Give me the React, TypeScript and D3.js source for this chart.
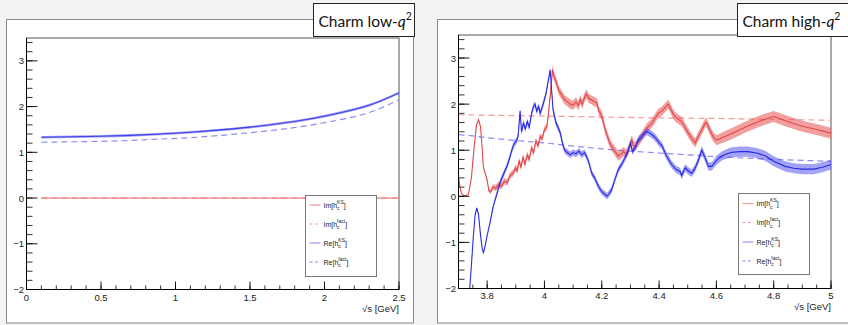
import React from 'react';
import * as d3 from 'd3';

const W = 848;
const H = 325;

// ---------- Low-q2 panel data: [sqrt(s), value, half-band] ----------
const lowReKS: [number, number, number][] = [
  [0.1, 1.33, 0.028], [0.3, 1.34, 0.028], [0.5, 1.35, 0.028], [0.7, 1.37, 0.028], [0.9, 1.40, 0.028],
  [1.1, 1.44, 0.028], [1.3, 1.49, 0.028], [1.5, 1.55, 0.028], [1.7, 1.63, 0.028], [1.9, 1.73, 0.028],
  [2.1, 1.86, 0.03], [2.3, 2.03, 0.03], [2.5, 2.30, 0.032],
];
const lowReFact: [number, number][] = [
  [0.1, 1.22], [0.3, 1.23], [0.5, 1.24], [0.7, 1.26], [0.9, 1.29], [1.1, 1.32], [1.3, 1.37],
  [1.5, 1.43], [1.7, 1.50], [1.9, 1.59], [2.1, 1.71], [2.3, 1.87], [2.5, 2.15],
];
const lowImKS: [number, number, number][] = [
  [0.1, 0, 0.008], [0.5, 0, 0.008], [1.0, 0, 0.008], [1.5, 0, 0.008], [2.0, 0, 0.008], [2.5, 0, 0.008],
];
const lowImFact: [number, number][] = [[0.1, 0], [1.0, 0], [2.0, 0], [2.5, 0]];

// ---------- High-q2 panel data ----------
const highImKS: [number, number, number][] = [
  [3.700, 0.43, 0.01], [3.705, 0.20, 0.01], [3.710, 0.07, 0.01], [3.717, 0.02, 0.01], [3.725, 0.01, 0.01],
  [3.735, 0.05, 0.01], [3.745, 0.40, 0.01], [3.755, 1.10, 0.01], [3.763, 1.55, 0.01], [3.770, 1.66, 0.01],
  [3.777, 1.50, 0.01], [3.783, 1.00, 0.015], [3.787, 0.62, 0.02], [3.793, 0.50, 0.02], [3.800, 0.35, 0.03],
  [3.806, 0.12, 0.04], [3.812, 0.10, 0.05], [3.820, 0.20, 0.06], [3.830, 0.18, 0.07], [3.840, 0.25, 0.07],
  [3.850, 0.22, 0.07], [3.860, 0.33, 0.07], [3.870, 0.30, 0.07], [3.880, 0.45, 0.07], [3.890, 0.50, 0.07],
  [3.900, 0.62, 0.07], [3.905, 0.55, 0.07], [3.912, 0.78, 0.07], [3.918, 0.62, 0.07], [3.925, 0.85, 0.07],
  [3.932, 0.70, 0.07], [3.940, 0.90, 0.07], [3.947, 0.80, 0.07], [3.955, 1.05, 0.07], [3.962, 0.95, 0.07],
  [3.970, 1.20, 0.07], [3.978, 1.10, 0.07], [3.985, 1.30, 0.07], [3.992, 1.25, 0.07], [4.000, 1.45, 0.07],
  [4.008, 1.50, 0.07], [4.015, 1.85, 0.08], [4.022, 2.30, 0.09], [4.028, 2.75, 0.1], [4.033, 2.60, 0.1],
  [4.040, 2.50, 0.1], [4.050, 2.30, 0.1], [4.060, 2.20, 0.1], [4.070, 2.10, 0.1], [4.080, 2.05, 0.1],
  [4.090, 2.00, 0.1], [4.100, 1.98, 0.1], [4.110, 2.05, 0.1], [4.118, 1.97, 0.1], [4.125, 2.10, 0.1],
  [4.132, 2.00, 0.1], [4.140, 2.15, 0.1], [4.147, 2.22, 0.1], [4.155, 2.12, 0.1], [4.165, 2.09, 0.1],
  [4.175, 2.05, 0.1], [4.183, 2.03, 0.1], [4.190, 1.85, 0.1], [4.200, 1.75, 0.1], [4.212, 1.44, 0.1],
  [4.230, 1.12, 0.1], [4.247, 0.97, 0.1], [4.258, 0.87, 0.1], [4.268, 0.92, 0.1], [4.276, 0.97, 0.1],
  [4.285, 0.92, 0.1], [4.293, 1.00, 0.1], [4.305, 1.23, 0.1], [4.310, 1.10, 0.1], [4.316, 1.08, 0.1],
  [4.328, 1.18, 0.1], [4.340, 1.30, 0.1], [4.357, 1.48, 0.1], [4.375, 1.59, 0.1], [4.387, 1.70, 0.1],
  [4.397, 1.80, 0.1], [4.410, 1.85, 0.1], [4.420, 1.92, 0.1], [4.432, 2.00, 0.1], [4.440, 1.90, 0.1],
  [4.448, 1.80, 0.1], [4.456, 1.73, 0.1], [4.465, 1.68, 0.1], [4.479, 1.62, 0.1], [4.490, 1.50, 0.1],
  [4.502, 1.37, 0.1], [4.515, 1.25, 0.1], [4.526, 1.16, 0.1], [4.537, 1.30, 0.1], [4.549, 1.44, 0.1],
  [4.560, 1.58, 0.1], [4.566, 1.60, 0.1], [4.578, 1.42, 0.1], [4.590, 1.28, 0.1], [4.601, 1.22, 0.11],
  [4.650, 1.35, 0.12], [4.700, 1.50, 0.12], [4.750, 1.63, 0.12], [4.800, 1.73, 0.12], [4.850, 1.62, 0.12],
  [4.900, 1.52, 0.12], [4.950, 1.45, 0.12], [5.000, 1.37, 0.12],
];
const highReKS: [number, number, number][] = [
  [3.738, -2.10, 0.01], [3.745, -1.50, 0.01], [3.752, -0.85, 0.01], [3.758, -0.40, 0.01], [3.764, -0.25, 0.01],
  [3.770, -0.40, 0.01], [3.777, -0.85, 0.01], [3.783, -1.15, 0.01], [3.787, -1.22, 0.01], [3.792, -1.10, 0.015],
  [3.800, -0.85, 0.02], [3.810, -0.57, 0.03], [3.820, -0.25, 0.04], [3.828, -0.07, 0.05], [3.837, 0.12, 0.06],
  [3.845, 0.30, 0.07], [3.857, 0.48, 0.07], [3.869, 0.65, 0.07], [3.878, 0.82, 0.07], [3.886, 1.00, 0.07],
  [3.895, 1.15, 0.07], [3.902, 1.20, 0.07], [3.908, 1.30, 0.07], [3.915, 1.85, 0.07], [3.920, 1.40, 0.07],
  [3.927, 1.60, 0.07], [3.933, 1.45, 0.07], [3.940, 1.62, 0.07], [3.947, 1.50, 0.07], [3.955, 1.80, 0.07],
  [3.962, 1.95, 0.07], [3.967, 2.00, 0.07], [3.973, 1.85, 0.07], [3.980, 1.95, 0.07], [3.985, 1.80, 0.07],
  [3.993, 1.95, 0.07], [4.000, 2.10, 0.07], [4.006, 2.25, 0.07], [4.013, 2.50, 0.07], [4.020, 2.74, 0.07],
  [4.025, 2.30, 0.07], [4.030, 1.88, 0.07], [4.040, 1.60, 0.07], [4.055, 1.38, 0.07], [4.063, 1.15, 0.07],
  [4.070, 1.00, 0.07], [4.080, 0.95, 0.07], [4.090, 0.90, 0.07], [4.100, 0.95, 0.07], [4.110, 0.92, 0.07],
  [4.120, 0.98, 0.07], [4.130, 0.90, 0.07], [4.140, 0.95, 0.07], [4.148, 0.85, 0.07], [4.155, 0.73, 0.07],
  [4.165, 0.50, 0.07], [4.175, 0.40, 0.07], [4.188, 0.22, 0.07], [4.200, 0.10, 0.07], [4.210, 0.05, 0.07],
  [4.218, 0.00, 0.07], [4.225, 0.05, 0.07], [4.235, 0.15, 0.07], [4.245, 0.35, 0.07], [4.258, 0.58, 0.07],
  [4.270, 0.70, 0.07], [4.281, 0.83, 0.07], [4.290, 0.95, 0.07], [4.300, 1.16, 0.07], [4.307, 0.97, 0.07],
  [4.316, 1.05, 0.07], [4.328, 1.23, 0.08], [4.340, 1.30, 0.08], [4.357, 1.41, 0.08], [4.375, 1.34, 0.08],
  [4.390, 1.25, 0.08], [4.400, 1.16, 0.08], [4.410, 1.10, 0.08], [4.421, 0.94, 0.08], [4.433, 0.80, 0.08],
  [4.444, 0.69, 0.08], [4.460, 0.58, 0.08], [4.473, 0.54, 0.08], [4.479, 0.45, 0.08], [4.491, 0.62, 0.08],
  [4.502, 0.55, 0.08], [4.514, 0.50, 0.08], [4.525, 0.60, 0.08], [4.535, 0.75, 0.08], [4.549, 1.00, 0.09],
  [4.560, 0.85, 0.09], [4.572, 0.65, 0.09], [4.584, 0.65, 0.09], [4.600, 0.78, 0.1], [4.620, 0.88, 0.1],
  [4.650, 0.95, 0.11], [4.680, 0.97, 0.11], [4.710, 0.97, 0.11], [4.740, 0.94, 0.11], [4.770, 0.88, 0.11],
  [4.800, 0.76, 0.11], [4.840, 0.65, 0.11], [4.870, 0.61, 0.11], [4.900, 0.59, 0.11], [4.940, 0.59, 0.11],
  [4.970, 0.63, 0.11], [5.000, 0.69, 0.11],
];
const highReFact: [number, number][] = [
  [3.70, 1.34], [3.75, 1.31], [3.80, 1.27], [3.90, 1.21], [4.00, 1.16], [4.10, 1.09], [4.20, 1.03],
  [4.30, 0.98], [4.40, 0.94], [4.50, 0.90], [4.60, 0.86], [4.70, 0.83], [4.80, 0.80], [4.90, 0.78], [5.00, 0.76],
];
const highImFact: [number, number][] = [
  [3.70, 1.77], [4.00, 1.74], [4.20, 1.72], [4.40, 1.70], [4.60, 1.69], [4.80, 1.67], [5.00, 1.65],
];

// ---------- Axes ----------
const yTicks = [-2, -1, 0, 1, 2, 3];
const lowXTicks = [0, 0.5, 1, 1.5, 2, 2.5];
const highXTicks = [3.8, 4, 4.2, 4.4, 4.6, 4.8, 5];
const xTitle = '\u221As [GeV]';
const legendNames = [
  { main: 'Im[h', sup: 'KS', kind: 'im', dash: false },
  { main: 'Im[h', sup: 'fact', kind: 'im', dash: true },
  { main: 'Re[h', sup: 'KS', kind: 're', dash: false },
  { main: 'Re[h', sup: 'fact', kind: 're', dash: true },
];

const RED = '#e2474a';
const RED_BAND = 'rgba(232,80,82,0.55)';
const RED_DASH = '#f29a9a';
const BLUE = '#2a2ae6';
const BLUE_BAND = 'rgba(70,70,240,0.5)';
const BLUE_DASH = '#8c8cf2';
const AXIS_FONT = '"Liberation Sans", Arial, sans-serif';

type Geo = {
  id: string;
  outer: { x: number; y: number; w: number; h: number };
  plot: { x0: number; x1: number; top: number; bottom: number };
  xDomain: [number, number];
  xTicks: number[];
  xMinor: number;
  xLabel: (v: number) => string;
  title: string;
  titleBox: { x: number; y: number; w: number; h: number };
  legend: { x: number; y: number; w: number; h: number; rows: number[] };
  reKS: [number, number, number][];
  imKS: [number, number, number][];
  reFact: [number, number][];
  imFact: [number, number][];
  smooth: boolean;
  imColor: string;
  reColor: string;
  labelBase: number;
  titleBase: number;
};

function Panel({ g }: { g: Geo }) {
  const x = d3.scaleLinear().domain(g.xDomain).range([g.plot.x0, g.plot.x1]);
  const y = d3.scaleLinear().domain([-2, 3.5]).range([g.plot.bottom, g.plot.top]);
  const curve = g.smooth ? d3.curveMonotoneX : d3.curveLinear;
  const line = d3.line<[number, number, number] | [number, number]>()
    .x((d) => x(d[0])).y((d) => y(d[1])).curve(curve);
  const area = d3.area<[number, number, number]>()
    .x((d) => x(d[0])).y0((d) => y(d[1] - d[2])).y1((d) => y(d[1] + d[2])).curve(curve);

  const xMinorTicks = d3.range(
    Math.ceil(g.xDomain[0] / g.xMinor - 1e-6) * g.xMinor,
    g.xDomain[1] + 1e-6,
    g.xMinor
  );
  const yMinorTicks = d3.range(-2, 3.5 + 1e-6, 0.2);
  const clipId = `clip-${g.id}`;
  const L = g.legend;

  return (
    <g>
      <rect x={g.outer.x} y={g.outer.y} width={g.outer.w} height={g.outer.h} fill="#ffffff" stroke="#8a8a8a" strokeWidth={1} />
      <defs>
        <clipPath id={clipId}>
          <rect x={g.plot.x0} y={g.plot.top} width={g.plot.x1 - g.plot.x0} height={g.plot.bottom - g.plot.top} />
        </clipPath>
      </defs>
      {/* frame */}
      <rect x={g.plot.x0} y={g.plot.top} width={g.plot.x1 - g.plot.x0} height={g.plot.bottom - g.plot.top}
        fill="none" stroke="#555" strokeWidth={1} />
      <g clipPath={`url(#${clipId})`}>
        <path d={line(g.imFact) || ''} fill="none" stroke={RED_DASH} strokeWidth={1.2} strokeDasharray="6,4" />
        <path d={line(g.reFact) || ''} fill="none" stroke={BLUE_DASH} strokeWidth={1.2} strokeDasharray="6,4" />
        <path d={area(g.imKS) || ''} fill={RED_BAND} />
        <path d={line(g.imKS) || ''} fill="none" stroke={g.imColor} strokeWidth={1.1} />
        <path d={area(g.reKS) || ''} fill={BLUE_BAND} />
        <path d={line(g.reKS) || ''} fill="none" stroke={g.reColor} strokeWidth={1.1} />
      </g>
      {/* x axis */}
      <line x1={g.plot.x0} x2={g.plot.x1} y1={g.plot.bottom} y2={g.plot.bottom} stroke="#000" strokeWidth={1} />
      {xMinorTicks.map((v, i) => (
        <line key={`xm${i}`} x1={x(v)} x2={x(v)} y1={g.plot.bottom} y2={g.plot.bottom - 4} stroke="#000" strokeWidth={0.8} />
      ))}
      {g.xTicks.map((v, i) => (
        <line key={`xM${i}`} x1={x(v)} x2={x(v)} y1={g.plot.bottom} y2={g.plot.bottom - 8} stroke="#000" strokeWidth={0.9} />
      ))}
      {g.xTicks.map((v, i) => (
        <text key={`xl${i}`} x={x(v)} y={g.labelBase} textAnchor="middle" fontFamily={AXIS_FONT} fontSize={9.5} fill="#222">
          {g.xLabel(v)}
        </text>
      ))}
      <text x={g.plot.x1} y={g.labelBase + 11} textAnchor="end" fontFamily={AXIS_FONT} fontSize={9.5} fill="#222">{xTitle}</text>
      {/* y axis */}
      <line x1={g.plot.x0} x2={g.plot.x0} y1={g.plot.top} y2={g.plot.bottom} stroke="#000" strokeWidth={1} />
      {yMinorTicks.map((v, i) => (
        <line key={`ym${i}`} x1={g.plot.x0} x2={g.plot.x0 + 6} y1={y(v)} y2={y(v)} stroke="#000" strokeWidth={0.8} />
      ))}
      {yTicks.map((v, i) => (
        <line key={`yM${i}`} x1={g.plot.x0} x2={g.plot.x0 + 11} y1={y(v)} y2={y(v)} stroke="#000" strokeWidth={0.9} />
      ))}
      {yTicks.map((v, i) => (
        <text key={`yl${i}`} x={g.plot.x0 - 2.5} y={y(v) + 3.5} textAnchor="end" fontFamily={AXIS_FONT} fontSize={9.5} fill="#222">
          {v < 0 ? `\u2212${Math.abs(v)}` : `${v}`}
        </text>
      ))}
      {/* legend */}
      <rect x={L.x} y={L.y} width={L.w} height={L.h} fill="#fff" stroke="#777" strokeWidth={1} />
      {legendNames.map((e, i) => {
        const ry = L.y + L.rows[i];
        const col = e.kind === 'im' ? (e.dash ? RED_DASH : '#f09a9a') : (e.dash ? BLUE_DASH : '#9a9af2');
        const tx = L.x + 18;
        const mainW = e.main === 'Im[h' ? 13.6 : 14.8;
        const supW = e.sup === 'KS' ? 6.7 : 8.1;
        return (
          <g key={`lg${i}`}>
            <line x1={L.x + 4} x2={L.x + 15} y1={ry} y2={ry} stroke={col} strokeWidth={1.2} strokeDasharray={e.dash ? '3,2.5' : undefined} />
            <text x={tx} y={ry + 2.5} fontFamily={AXIS_FONT} fontSize={7} fill="#222">{e.main}</text>
            <text x={tx + mainW} y={ry - 1.5} fontFamily={AXIS_FONT} fontSize={5} fill="#222">{e.sup}</text>
            <text x={tx + mainW} y={ry + 5} fontFamily={AXIS_FONT} fontSize={5} fill="#222">c</text>
            <text x={tx + mainW + supW} y={ry + 2.5} fontFamily={AXIS_FONT} fontSize={7} fill="#222">]</text>
          </g>
        );
      })}
      {/* title box */}
      <rect x={g.titleBox.x} y={g.titleBox.y} width={g.titleBox.w} height={g.titleBox.h} fill="#fff" stroke="#222" strokeWidth={1} />
      <text x={g.titleBox.x + 5} y={g.titleBase} fontFamily="Lato, 'Noto Sans', sans-serif" fontSize={15.5} fill="#111">
        {g.title}
        <tspan fontStyle="italic">q</tspan>
        <tspan fontSize={10.5} dy={-7}>2</tspan>
      </text>
    </g>
  );
}

const lowGeo: Geo = {
  id: 'low',
  outer: { x: 6.5, y: 19.5, w: 407, h: 303.5 },
  plot: { x0: 26.5, x1: 399, top: 38, bottom: 289.5 },
  xDomain: [0, 2.5],
  xTicks: lowXTicks,
  xMinor: 0.1,
  xLabel: (v) => `${v}`,
  title: 'Charm low-',
  titleBox: { x: 313.5, y: 3.5, w: 101, h: 33 },
  legend: { x: 305.5, y: 195.5, w: 71, h: 81, rows: [9.5, 28.5, 47.5, 66.5] },
  reKS: lowReKS,
  imKS: lowImKS,
  reFact: lowReFact,
  imFact: lowImFact,
  smooth: true,
  imColor: '#ee8888',
  reColor: '#4040ea',
  labelBase: 300.5,
  titleBase: 27,
};

const highGeo: Geo = {
  id: 'high',
  outer: { x: 437.5, y: 19.5, w: 420, h: 303.5 },
  plot: { x0: 458.5, x1: 831, top: 35, bottom: 288.5 },
  xDomain: [3.7, 5.0],
  xTicks: highXTicks,
  xMinor: 0.05,
  xLabel: (v) => `${v}`,
  title: 'Charm high-',
  titleBox: { x: 737.5, y: 3.5, w: 120, h: 33 },
  legend: { x: 738.5, y: 193.5, w: 71, h: 81, rows: [10, 29, 48.5, 67.5] },
  reKS: highReKS,
  imKS: highImKS,
  reFact: highReFact,
  imFact: highImFact,
  smooth: false,
  imColor: RED,
  reColor: BLUE,
  labelBase: 299,
  titleBase: 27,
};

export default function App() {
  return (
    <svg width={W} height={H} viewBox={`0 0 ${W} ${H}`}
      style={{ position: 'absolute', left: 0, top: 0, display: 'block' }}>
      <rect x={0} y={0} width={W} height={H} fill="#f3f3f3" />
      <Panel g={lowGeo} />
      <Panel g={highGeo} />
    </svg>
  );
}
